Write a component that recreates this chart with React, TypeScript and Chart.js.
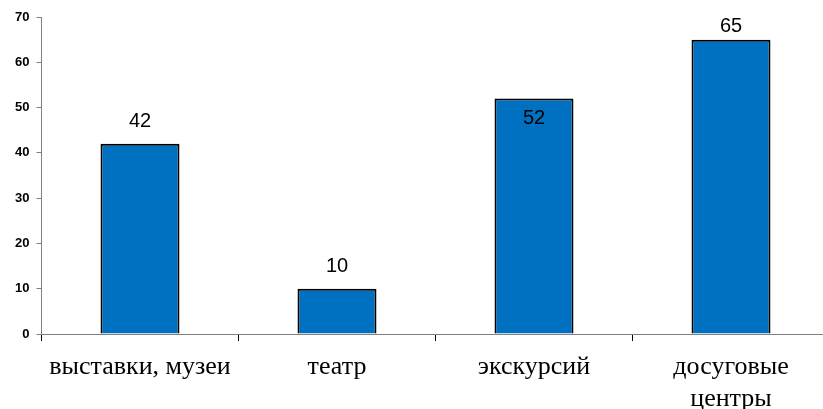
import React, { useEffect, useRef } from "react";
import { Chart, registerables } from "chart.js";

Chart.register(...registerables);

const categories: (string | string[])[] = [
  "выставки, музеи",
  "театр",
  "экскурсий",
  ["досуговые", "центры"],
];
const values: number[] = [42, 10, 52, 65];
const labelInside: boolean[] = [false, false, true, false];
const yMax = 70;
const yStep = 10;

const valueLabels = {
  id: "valueLabels",
  afterDatasetsDraw(chart: any) {
    const ctx = chart.ctx;
    const meta = chart.getDatasetMeta(0);
    ctx.save();
    ctx.font = "20px 'Liberation Sans', Arial, sans-serif";
    ctx.fillStyle = "#000";
    ctx.textAlign = "center";
    ctx.textBaseline = "middle";
    meta.data.forEach((bar: any, i: number) => {
      const v = values[i];
      let y = labelInside[i] ? bar.y + 20 : bar.y - 22;
      if (y < 26) y = 26;
      ctx.fillText(String(v), bar.x, y);
    });
    ctx.restore();
  },
};

export default function App() {
  const ref = useRef<HTMLCanvasElement>(null);
  useEffect(() => {
    if (!ref.current) return;
    const chart = new Chart(ref.current, {
      type: "bar",
      data: {
        labels: categories,
        datasets: [
          {
            data: values,
            backgroundColor: "#0070C0",
            borderColor: "#000000",
            borderWidth: 2,
            categoryPercentage: 1,
            barPercentage: 0.401,
          },
        ],
      },
      options: {
        animation: false,
        responsive: false,
        devicePixelRatio: 1,
        layout: { padding: { top: 17, right: 0.5, left: 0, bottom: 0 } },
        plugins: { legend: { display: false }, tooltip: { enabled: false } },
        scales: {
          x: {
            afterFit: (s: any) => {
              s.height = 75;
            },
            grid: {
              display: true,
              offset: true,
              drawOnChartArea: false,
              tickLength: 7,
              color: "#000000",
            },
            border: { display: true, color: "#808080", width: 1 },
            ticks: {
              color: "#000",
              padding: 11,
              maxRotation: 0,
              autoSkip: false,
              font: {
                family: "'Liberation Serif', 'Times New Roman', serif",
                size: 26,
                lineHeight: 1.2,
              },
            },
          },
          y: {
            min: 0,
            max: yMax,
            afterFit: (s: any) => {
              s.width = 41.5;
            },
            grid: {
              display: true,
              drawOnChartArea: false,
              tickLength: 5,
              color: "#808080",
            },
            border: { display: true, color: "#808080", width: 1 },
            ticks: {
              stepSize: yStep,
              color: "#000",
              padding: 7,
              font: {
                family: "'Liberation Sans', Arial, sans-serif",
                size: 13,
                weight: "bold",
              },
            },
          },
        },
      },
      plugins: [valueLabels],
    } as any);
    return () => chart.destroy();
  }, []);
  return (
    <div style={{ position: "fixed", left: 0, top: 0, width: 823, height: 409, overflow: "hidden", background: "#fff" }}>
      <canvas ref={ref} width={830} height={409} style={{ width: 830, height: 409, display: "block" }} />
    </div>
  );
}
